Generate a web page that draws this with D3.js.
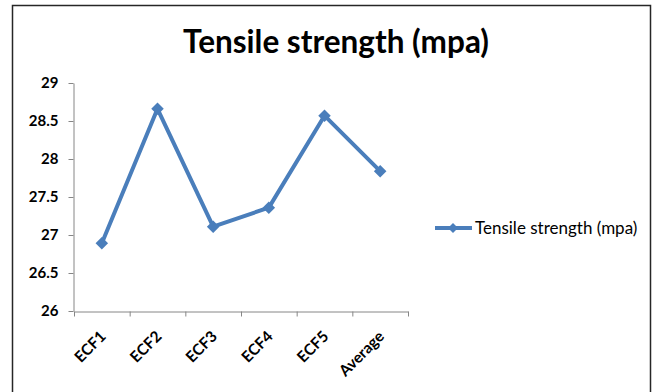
<!DOCTYPE html>
<html><head><meta charset="utf-8">
<script src="https://cdnjs.cloudflare.com/ajax/libs/d3/7.8.5/d3.min.js"></script>
<style>body{margin:0;background:#fff}svg{display:block}text{font-family:Lato,"Open Sans",sans-serif}</style>
</head><body>
<script>
const categories = ["ECF1","ECF2","ECF3","ECF4","ECF5","Average"];
const values = [26.89, 28.66, 27.11, 27.36, 28.57, 27.84];
const yTicks = [26, 26.5, 27, 27.5, 28, 28.5, 29];
const seriesName = "Tensile strength (mpa)";
const title = "Tensile strength (mpa)";

const W = 656, H = 392;
const svg = d3.select("body").append("svg").attr("width", W).attr("height", H);
svg.append("rect").attr("x",0).attr("y",0).attr("width",W).attr("height",H).attr("fill","#fff");
svg.append("rect").attr("x",12.5).attr("y",5.5).attr("width",638).attr("height",400)
  .attr("fill","none").attr("stroke","#262626").attr("stroke-width",1.5);

const x = d3.scaleBand().domain(categories).range([74, 408]);
const y = d3.scaleLinear().domain([26, 29]).range([311, 83]);

svg.append("text").attr("x", 336).attr("y", 53).attr("text-anchor","middle")
  .attr("font-size", 31.5).attr("font-weight","bold").attr("fill","#000").text(title);

const yAxis = svg.append("g").attr("transform","translate(73.5,0)")
  .call(d3.axisLeft(y).tickValues(yTicks).tickSize(5).tickSizeOuter(0).tickPadding(10).tickFormat(d3.format("")));
yAxis.select(".domain").attr("stroke","#868686");
yAxis.selectAll(".tick line").attr("stroke","#868686");
yAxis.selectAll(".tick text").attr("font-size",15).attr("font-weight","bold").attr("fill","#000");

const xAxis = svg.append("g").attr("transform","translate(0,311.5)")
  .call(d3.axisBottom(x).tickSize(0).tickSizeOuter(0).tickFormat(""));
xAxis.select(".domain").attr("stroke","#868686");
const edges = categories.map(c => x(c)).concat([x.range()[1]]);
xAxis.selectAll("line.edge").data(edges).enter().append("line").attr("class","edge")
  .attr("x1", d => d + 0.5).attr("x2", d => d + 0.5).attr("y1", 0).attr("y2", 5).attr("stroke","#868686");
xAxis.selectAll("text.lbl").data(categories).enter().append("text").attr("class","lbl")
  .attr("transform", d => `translate(${x(d) + x.bandwidth()/2 + 5},${26}) rotate(-45)`)
  .attr("text-anchor","end").attr("font-size",15.5).attr("font-weight","bold").attr("fill","#000").text(d => d);

const pts = categories.map((c,i) => [x(c) + x.bandwidth()/2, y(values[i])]);
svg.append("path").attr("d", d3.line()(pts)).attr("fill","none")
  .attr("stroke","#4A7EBB").attr("stroke-width",4).attr("stroke-linejoin","round");
const diamond = d3.symbol().type(d3.symbolDiamond2).size(100);
svg.selectAll("path.m").data(pts).enter().append("path").attr("class","m")
  .attr("transform", d => `translate(${d[0]},${d[1]})`).attr("d", diamond).attr("fill","#4A7EBB");

const lg = svg.append("g");
lg.append("line").attr("x1",435).attr("x2",472).attr("y1",228).attr("y2",228).attr("stroke","#4A7EBB").attr("stroke-width",4);
lg.append("path").attr("transform","translate(453,228)").attr("d", d3.symbol().type(d3.symbolDiamond2).size(64)).attr("fill","#4A7EBB");
lg.append("text").attr("x",475).attr("y",233.5).attr("font-size",17).attr("fill","#000").text(seriesName);
</script>
</body></html>
